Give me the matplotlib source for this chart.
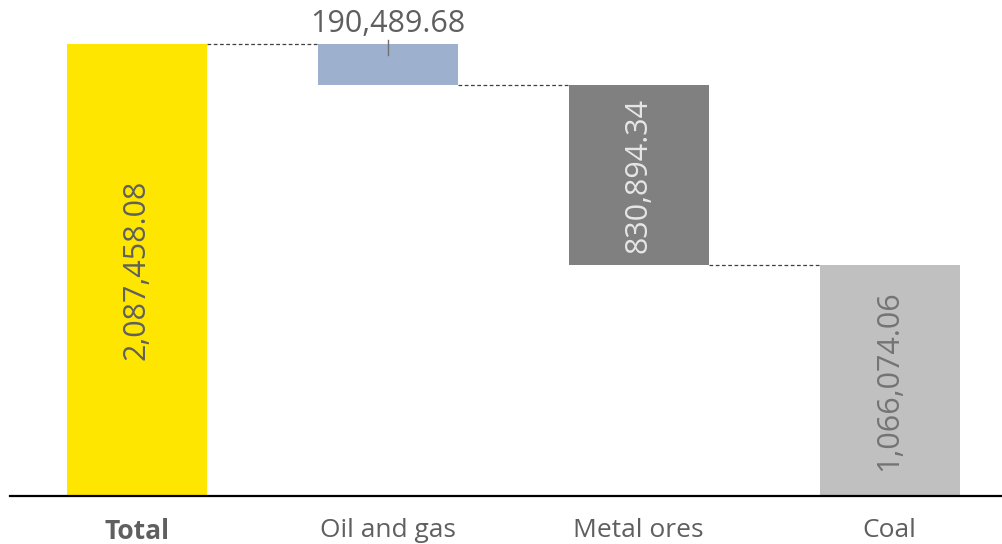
import matplotlib
matplotlib.use("Agg")
import matplotlib.pyplot as plt

categories = ["Total", "Oil and gas", "Metal ores", "Coal"]
values = [2087458.08, 190489.68, 830894.34, 1066074.06]
labels = ["2,087,458.08", "190,489.68", "830,894.34", "1,066,074.06"]
colors = ["#FFE600", "#9DB0CE", "#808080", "#C0C0C0"]
label_colors = ["#5F5F5F", "#5F5F5F", "#E6E6E6", "#747474"]

plt.rcParams["font.family"] = ["Open Sans", "DejaVu Sans"]

fig = plt.figure(figsize=(10.03, 5.44), dpi=100)
ax = fig.add_axes([0.01, 1 - 496 / 544, 0.99, 496 / 544])

total = values[0]
# waterfall: total bar from zero, components stepping down from the top
bottoms = [0.0]
tops = [total]
running = total
for v in values[1:]:
    bottoms.append(running - v)
    tops.append(running)
    running -= v

width = 140 / 251
x = list(range(len(categories)))
ax.bar(x, [t - b for t, b in zip(tops, bottoms)], bottom=bottoms,
       width=width, color=colors, edgecolor="none", zorder=2)

# dashed connectors between consecutive bars
for i in range(len(categories) - 1):
    lvl = tops[i + 1]
    ax.plot([x[i] + width / 2, x[i + 1] - width / 2], [lvl, lvl],
            linestyle=(0, (3, 2)), color="#404040", linewidth=0.9, zorder=1)

# value labels
for i in range(len(categories)):
    h = tops[i] - bottoms[i]
    if i == 1:
        ax.text(x[i], tops[i] + total * 0.012, labels[i], ha="center", va="bottom",
                fontsize=22, color=label_colors[i])
        ax.plot([x[i], x[i]], [tops[i] + total * 0.008, tops[i] - total * 0.025],
                color="#707070", linewidth=1, zorder=3)
    else:
        ax.text(x[i], bottoms[i] + h / 2, labels[i], ha="center", va="center",
                rotation=90, fontsize=22, color=label_colors[i], zorder=3)

ax.set_xlim(-126.5 / 251, (1003 - 136.5) / 251)
ax.set_ylim(0, total * 496 / 452)

for s in ["top", "right", "left"]:
    ax.spines[s].set_visible(False)
ax.spines["bottom"].set_color("black")
ax.spines["bottom"].set_linewidth(1.6)
ax.set_yticks([])
ax.set_xticks(x)
ax.set_xticklabels(categories, fontsize=19, color="#5F5F5F")
ax.get_xticklabels()[0].set_fontweight("bold")
ax.tick_params(axis="x", length=0, pad=16)

fig.savefig("out.png", dpi=100)
